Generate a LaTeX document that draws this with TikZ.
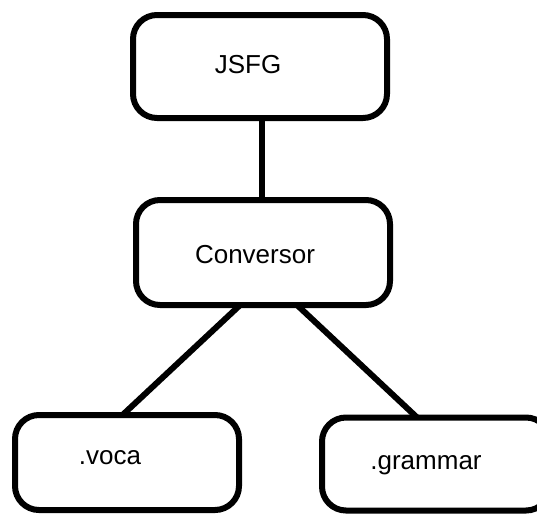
\documentclass[tikz,border=0pt]{standalone}
\usepackage{fontspec}
\setmainfont{Liberation Sans}
\usetikzlibrary{calc}
\begin{document}
\begin{tikzpicture}[x=1pt,y=-1pt,
  box/.style={draw=black, line width=6pt, rounded corners=24pt, outer sep=0pt,
    inner sep=0pt, fill=white},
  lbl/.style={inner sep=0pt, font=\fontsize{26}{30}\selectfont},
  link/.style={draw=black, line width=6pt}]
\useasboundingbox (0,0) rectangle (537,515);
% boxes (the right one runs past the edge of the page)
\node[box, minimum width=254pt, minimum height=103pt] (jsfg) at (260,66.5) {};
\node[box, minimum width=254pt, minimum height=105pt] (conv) at (263,252.5) {};
\node[box, minimum width=224pt, minimum height=95pt] (voca) at (127,462.5) {};
\node[box, minimum width=228pt, minimum height=93pt] (gram) at (436,464) {};
% labels
\node[lbl] (jsfgt) at (248,65) {JSFG};
\node[lbl] (convt) at (255,255) {Conversor};
\node[lbl] (vocat) at (110,458) {.voca};
\node[lbl] (gramt) at (426,465) {.grammar};
% connectors
\coordinate (jb) at ($(jsfg.south west)!0.508!(jsfg.south east)$);
\draw[link] (jb) -- (jb |- conv.north);
\draw[link] ($(conv.south west)!0.41!(conv.south east)$) -- ($(voca.north west)!0.48!(voca.north east)$);
\draw[link] ($(conv.south west)!0.634!(conv.south east)$) -- ($(gram.north west)!0.417!(gram.north east)$);
\end{tikzpicture}
\end{document}
